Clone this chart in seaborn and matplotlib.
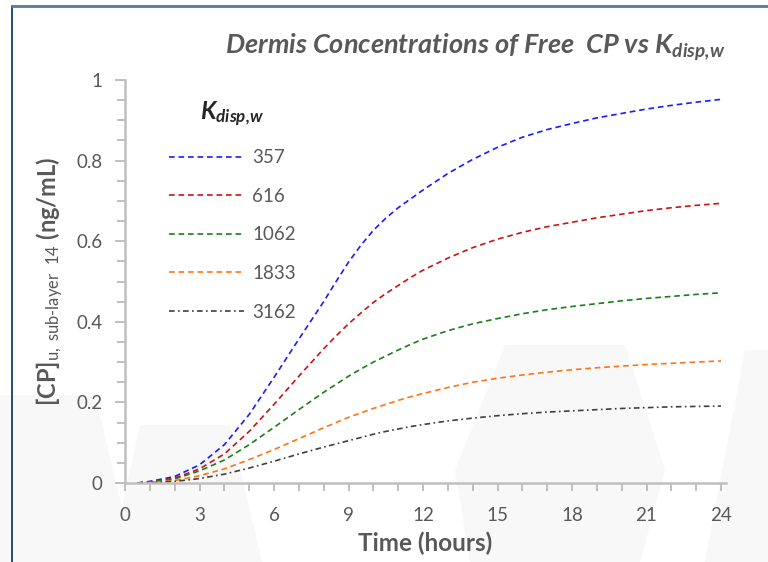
import numpy as np
import pandas as pd
import matplotlib
matplotlib.use("Agg")
import matplotlib.pyplot as plt
from matplotlib.lines import Line2D
from matplotlib.patches import Polygon
import seaborn as sns

# ---------------- data ----------------
hours = [0.5, 1, 2, 3, 4, 5, 6, 7, 8, 8.5, 9, 9.5, 10, 10.5, 11, 11.5, 12, 13, 14, 15, 16, 17, 18,
         19, 20, 21, 22, 23, 24]
k_labels = ["357", "616", "1062", "1833", "3162"]
cp_357 = [0.0, 0.004, 0.016, 0.045, 0.095, 0.17, 0.262, 0.357, 0.45, 0.5, 0.548, 0.59, 0.627, 0.657,
          0.683, 0.705, 0.727, 0.768, 0.803, 0.833, 0.858, 0.877, 0.892, 0.906, 0.917, 0.928,
          0.937, 0.945, 0.952]
cp_616 = [0.0, 0.003, 0.012, 0.035, 0.072, 0.128, 0.195, 0.265, 0.333, 0.365, 0.395, 0.422, 0.448,
          0.47, 0.49, 0.51, 0.528, 0.558, 0.584, 0.605, 0.622, 0.636, 0.647, 0.658, 0.667, 0.676,
          0.683, 0.689, 0.694]
cp_1062 = [0.0, 0.002, 0.01, 0.03, 0.057, 0.095, 0.138, 0.182, 0.225, 0.245, 0.265, 0.283, 0.3,
           0.315, 0.33, 0.344, 0.357, 0.378, 0.395, 0.408, 0.42, 0.43, 0.438, 0.445, 0.452, 0.458,
           0.463, 0.468, 0.472]
cp_1833 = [0.0, 0.001, 0.006, 0.018, 0.035, 0.058, 0.083, 0.11, 0.137, 0.15, 0.163, 0.174, 0.185,
           0.195, 0.205, 0.214, 0.222, 0.237, 0.25, 0.26, 0.268, 0.275, 0.281, 0.286, 0.29, 0.294,
           0.297, 0.3, 0.303]
cp_3162 = [0.0, 0.001, 0.004, 0.011, 0.022, 0.037, 0.054, 0.072, 0.089, 0.097, 0.105, 0.113, 0.121,
           0.128, 0.134, 0.14, 0.145, 0.154, 0.161, 0.167, 0.172, 0.176, 0.179, 0.182, 0.185, 0.187,
           0.189, 0.19, 0.191]
x_ticks = [0, 3, 6, 9, 12, 15, 18, 21, 24]
y_ticks = [0, 0.2, 0.4, 0.6, 0.8, 1]
y_tick_labels = ["0", "0.2", "0.4", "0.6", "0.8", "1"]

series = [cp_357, cp_616, cp_1062, cp_1833, cp_3162]
df = pd.concat([pd.DataFrame({"Time": hours, "CP": s, "K": k}) for s, k in zip(series, k_labels)],
               ignore_index=True)

# ---------------- style ----------------
sns.set_style("white")
FONT = "Lato"
plt.rcParams["font.family"] = [FONT, "DejaVu Sans"]
plt.rcParams["mathtext.fontset"] = "custom"
plt.rcParams["mathtext.rm"] = FONT
plt.rcParams["mathtext.it"] = FONT + ":italic"
plt.rcParams["mathtext.bf"] = FONT + ":bold"
plt.rcParams["mathtext.bfit"] = FONT + ":italic:bold"
plt.rcParams["mathtext.sf"] = FONT

GRAY = "#595959"
AXC = "#bfbfbf"
palette = {"357": "#1a1aff", "616": "#c81414", "1062": "#1b7d1b", "1833": "#ff7417", "3162": "#404040"}
dashes = {"357": (3.4, 2.3), "616": (3.4, 2.3), "1062": (3.4, 2.3), "1833": (3.4, 2.3),
          "3162": (3.4, 2.0, 1.0, 2.0)}

W, H = 768, 562
fig = plt.figure(figsize=(W / 100, H / 100), dpi=100)
fig.patch.set_facecolor("white")

# faint background shapes (watermark)
def px(poly):
    return [(x / W, 1 - y / H) for x, y in poly]

for poly in [
    [(0, 395), (95, 395), (135, 562), (0, 562)],
    [(140, 425), (230, 425), (262, 562), (110, 562)],
    [(505, 345), (625, 345), (665, 470), (640, 562), (470, 562), (455, 470)],
    [(745, 350), (768, 350), (768, 562), (705, 562)],
]:
    fig.add_artist(Polygon(px(poly), closed=True, transform=fig.transFigure,
                           facecolor="#f8f8f8", edgecolor="none", zorder=0))

# frame lines
fig.add_artist(Line2D([12 / W, 12 / W], [0, 1 - 6 / H], transform=fig.transFigure,
                      color="#1f4e79", lw=1.4, zorder=5))
fig.add_artist(Line2D([12 / W, 1], [1 - 6 / H, 1 - 6 / H], transform=fig.transFigure,
                      color="#5a7a96", lw=2.0, zorder=5))

ax = fig.add_axes([125 / W, 1 - 483 / H, (726 - 125) / W, (483 - 80) / H])
ax.set_facecolor("none")

sns.lineplot(data=df, x="Time", y="CP", hue="K", style="K", palette=palette, dashes=dashes,
             hue_order=k_labels, style_order=k_labels, linewidth=1.2, ax=ax, legend=False)

ax.set_xlim(0, 24.2)
ax.set_ylim(0, 1)
ax.set_xticks(x_ticks)
ax.set_xticklabels([str(t) for t in x_ticks])
ax.set_xticks(np.arange(0, 25, 1), minor=True)
ax.set_yticks(y_ticks)
ax.set_yticklabels(y_tick_labels)
ax.set_yticks(np.arange(0, 1.0001, 0.05), minor=True)

for s in ["top", "right"]:
    ax.spines[s].set_visible(False)
for s in ["left", "bottom"]:
    ax.spines[s].set_color(AXC)
    ax.spines[s].set_linewidth(1.8)
    ax.spines[s].set_zorder(3)

ax.tick_params(axis="x", which="both", bottom=True, direction="out", length=6, width=1.4,
               color=AXC, labelsize=13.5, labelcolor=GRAY, pad=11)
ax.tick_params(axis="y", which="major", left=True, direction="out", length=7, width=1.4,
               color=AXC, labelsize=13.5, labelcolor=GRAY, pad=9)
ax.tick_params(axis="y", which="minor", left=True, direction="out", length=6, width=1.4, color=AXC)

ax.set_xlabel("Time (hours)", fontsize=17.5, fontweight="bold", color=GRAY, labelpad=6)
ax.set_ylabel(r"$\mathbf{[CP]}_{\mathrm{u,\ sub\text{-}layer\ \ 14}}$ (ng/mL)", fontsize=17,
              fontweight="bold", color=GRAY, labelpad=8)
ax.yaxis.set_label_coords(-0.1, 0.5)

fig.text(475 / W, 1 - 47 / H, r"Dermis Concentrations of Free  CP vs K$_{\mathbfit{disp{,}w}}$",
         ha="center", va="center", fontsize=19.5, fontweight="bold", style="italic", color=GRAY)

handles = [Line2D([], [], color=palette[k], lw=1.2, dashes=dashes[k]) for k in k_labels]
leg = ax.legend(handles, k_labels, title=r"$\mathbfit{K}_{\mathbfit{disp{,}w}}$",
                loc="upper left", bbox_to_anchor=(0.045, 0.995), frameon=False,
                fontsize=13.5, title_fontsize=17.5, handlelength=4.0, handletextpad=0.45,
                labelspacing=1.15)
for t in leg.get_texts():
    t.set_color(GRAY)

fig.savefig("out.png", dpi=100)
